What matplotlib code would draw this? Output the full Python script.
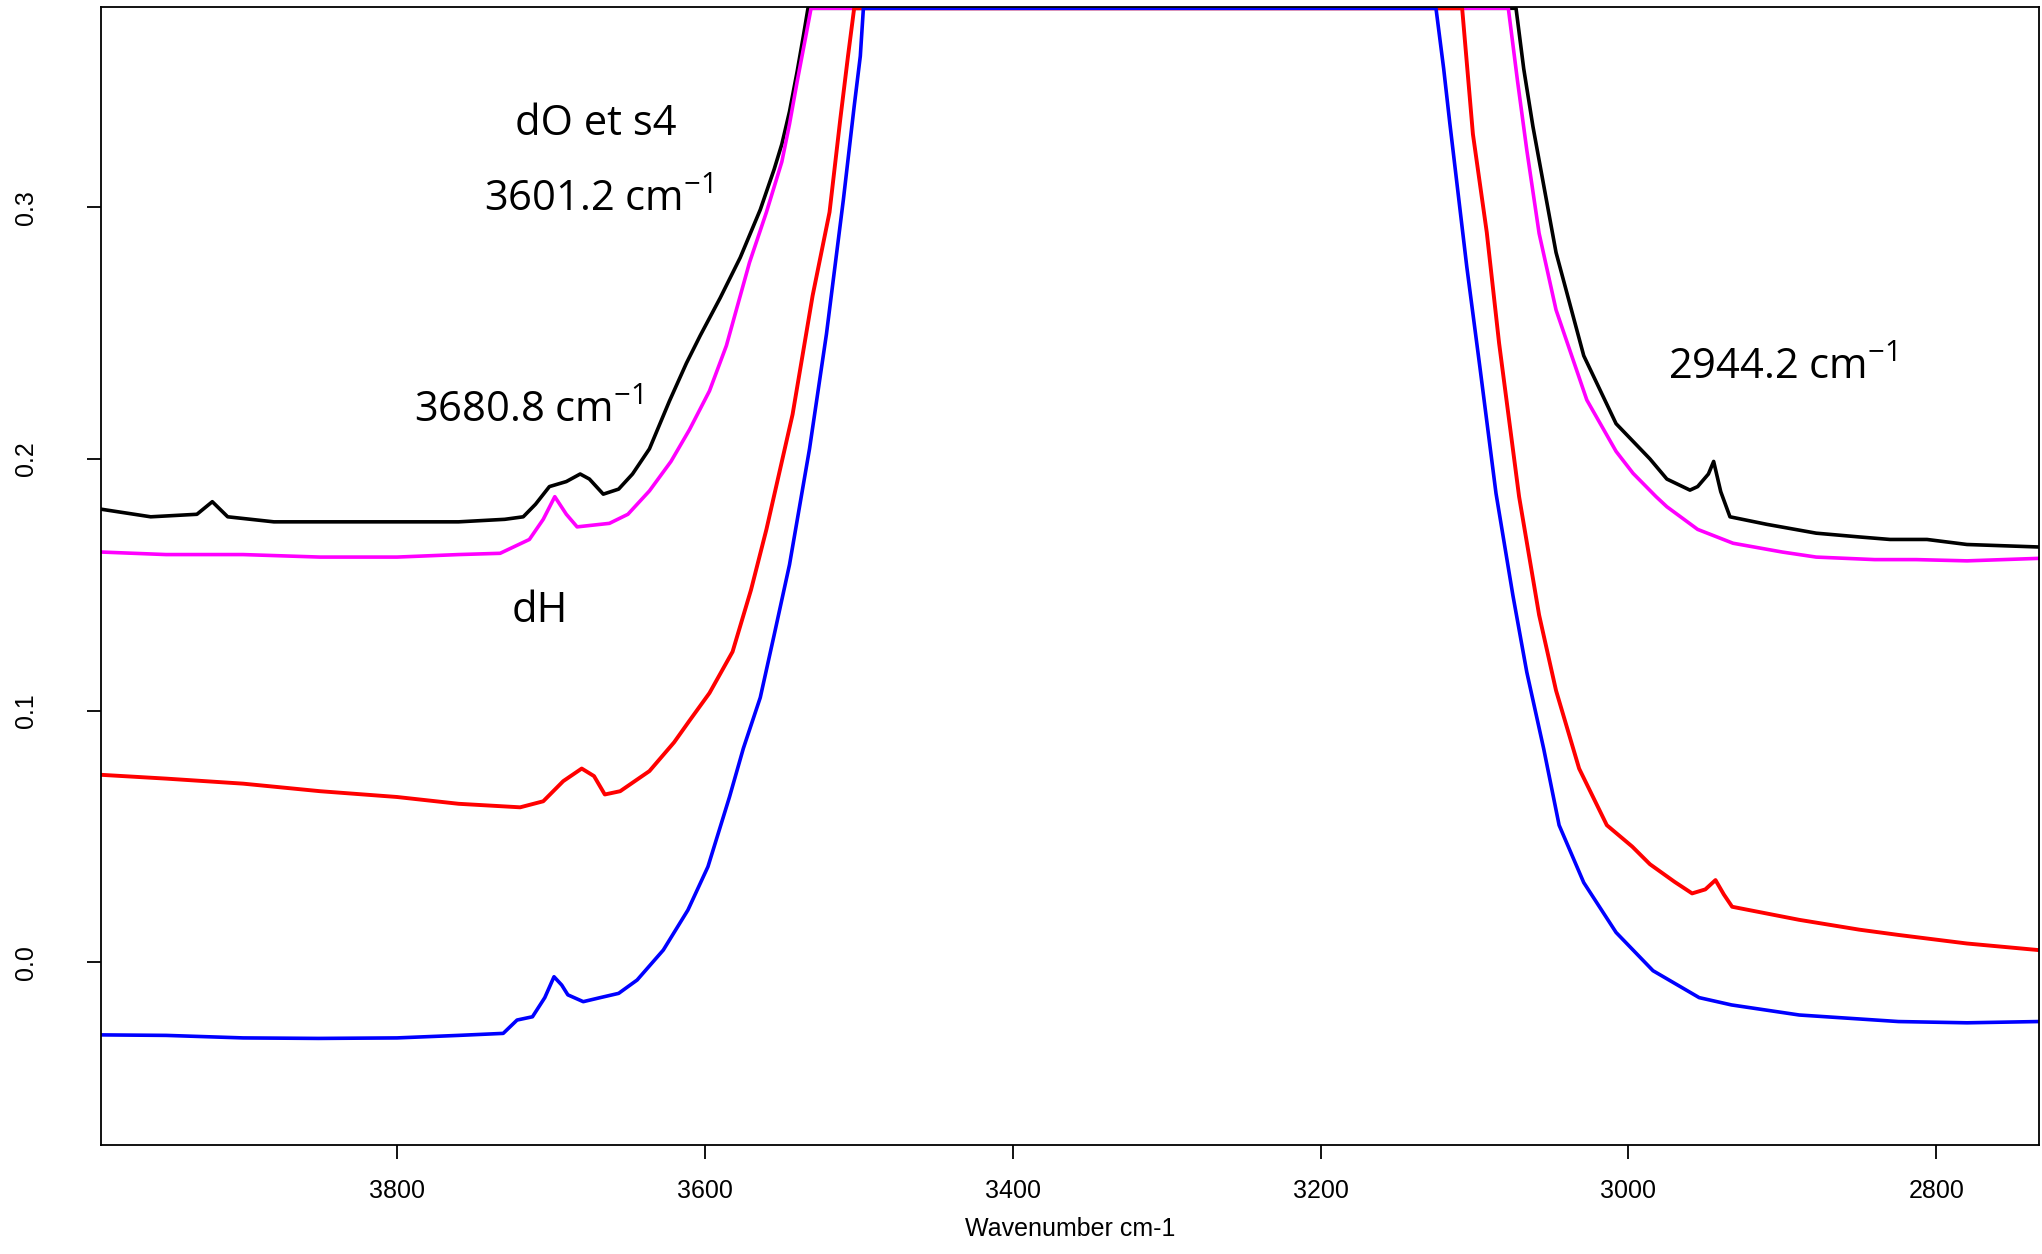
import matplotlib
matplotlib.use("Agg")
import matplotlib.pyplot as plt

# IR spectra (wavenumber, absorbance)
TOP = 0.379  # detector saturation level

black_x = [3992, 3960, 3930, 3920, 3910, 3880, 3850, 3800, 3760, 3730, 3718, 3710, 3701,
           3690, 3681, 3675, 3666, 3656, 3647, 3636, 3623, 3612, 3603, 3590, 3577, 3564,
           3555, 3550, 3545, 3540, 3536, 3533,
           3073, 3068, 3062, 3047, 3029, 3008, 2986, 2975, 2960, 2955, 2948,
           2944.6, 2940, 2934, 2910, 2878, 2850, 2830, 2806, 2780, 2733]
black_y = [0.180, 0.177, 0.178, 0.183, 0.177, 0.175, 0.175, 0.175, 0.175, 0.176, 0.177, 0.182, 0.189,
           0.191, 0.194, 0.192, 0.186, 0.188, 0.194, 0.204, 0.223, 0.238, 0.249, 0.264, 0.280, 0.299,
           0.315, 0.325, 0.338, 0.354, 0.368, TOP,
           TOP, 0.355, 0.332, 0.282, 0.241, 0.214, 0.200, 0.192, 0.1876, 0.189, 0.194,
           0.199, 0.187, 0.177, 0.174, 0.1705, 0.169, 0.168, 0.168, 0.166, 0.165]

magenta_x = [3992, 3950, 3900, 3850, 3800, 3760, 3733, 3714, 3705, 3697.5, 3690, 3683, 3662,
             3650, 3636, 3622, 3610, 3597, 3586, 3571, 3560, 3550, 3545, 3540,
             3535, 3531,
             3078, 3072, 3066, 3058, 3047, 3027, 3008, 2997, 2982, 2975, 2955, 2932, 2900,
             2878, 2840, 2813, 2780, 2733]
magenta_y = [0.163, 0.162, 0.162, 0.161, 0.161, 0.162, 0.1625, 0.168, 0.176, 0.185, 0.178, 0.173, 0.1744,
             0.178, 0.1873, 0.199, 0.2116, 0.227, 0.245, 0.278, 0.298, 0.318, 0.333, 0.350,
             0.366, TOP,
             TOP, 0.350, 0.3227, 0.2896, 0.2592, 0.2234, 0.203, 0.1943, 0.185, 0.181, 0.172, 0.1665, 0.163,
             0.161, 0.160, 0.160, 0.1595, 0.1605]

red_x = [3992, 3950, 3900, 3850, 3800, 3760, 3720, 3705, 3692, 3680, 3672, 3665, 3655, 3636,
         3620, 3610, 3597, 3582, 3570, 3560, 3543, 3530, 3519, 3512, 3507, 3503,
         3108, 3101, 3092, 3084, 3071, 3058, 3047, 3032, 3014, 2997.5, 2986, 2970, 2958.6, 2950,
         2943.4, 2938, 2932.6, 2889, 2850, 2824.5, 2780, 2733.7]
red_y = [0.0745, 0.073, 0.071, 0.068, 0.0657, 0.063, 0.0616, 0.064, 0.072, 0.077, 0.074, 0.0667, 0.068, 0.076,
         0.0874, 0.096, 0.107, 0.1234, 0.148, 0.172, 0.2177, 0.2648, 0.298, 0.335, 0.360, TOP,
         TOP, 0.329, 0.290, 0.246, 0.185, 0.138, 0.108, 0.077, 0.0545, 0.046, 0.039, 0.032, 0.0274, 0.029,
         0.0327, 0.027, 0.0221, 0.0169, 0.013, 0.0109, 0.0075, 0.0049]

blue_x = [3992, 3950, 3900, 3851, 3800, 3760, 3731, 3722, 3712, 3704, 3698, 3693, 3689, 3679,
          3668, 3656, 3644, 3627, 3611, 3598, 3584, 3575, 3564, 3555, 3545, 3532, 3521, 3510,
          3503, 3499, 3497,
          3125, 3120, 3116, 3105, 3096.5, 3086, 3075, 3066, 3055, 3045, 3029, 3008, 2984, 2954, 2933,
          2889, 2824.5, 2780, 2733.7]
blue_y = [-0.0288, -0.029, -0.030, -0.0302, -0.030, -0.029, -0.0282, -0.0229, -0.0216, -0.014, -0.0057, -0.009, -0.0129, -0.0156,
          -0.014, -0.0123, -0.007, 0.0049, 0.0208, 0.038, 0.0657, 0.085, 0.1052, 0.130, 0.158, 0.204, 0.2496, 0.303,
          0.340, 0.360, TOP,
          TOP, 0.355, 0.3333, 0.2764, 0.2366, 0.1863, 0.1457, 0.1153, 0.0848, 0.0545, 0.0317, 0.0119, -0.0033, -0.014, -0.0169,
          -0.0209, -0.0235, -0.024, -0.0235]

xticks = [3800, 3600, 3400, 3200, 3000, 2800]
yticks = [0.0, 0.1, 0.2, 0.3]

plt.rcParams['font.family'] = ['Liberation Sans', 'DejaVu Sans']
plt.rcParams['mathtext.fontset'] = 'custom'
plt.rcParams['mathtext.rm'] = 'Open Sans'
plt.rcParams['mathtext.it'] = 'Open Sans'

fig = plt.figure(figsize=(20.42, 12.54), dpi=100)
ax = fig.add_axes([0.0497, 0.0872, 0.949, 0.9076])

ax.plot(black_x, black_y, color='black', lw=2.6)
ax.plot(magenta_x, magenta_y, color='#ff00ff', lw=2.6)
ax.plot(red_x, red_y, color='#ff0000', lw=2.8)
ax.plot(blue_x, blue_y, color='#0000ff', lw=2.6)

ax.set_xlim(3992, 2733)
ax.set_ylim(-0.0724, 0.3797)
ax.set_xticks(xticks)
ax.set_xticklabels([str(t) for t in xticks], fontsize=18)
ax.set_yticks(yticks)
ax.set_yticklabels(['%.1f' % t for t in yticks], fontsize=18, rotation=90, va='center')
ax.tick_params(direction='out', length=10, width=1.3)
ax.tick_params(axis='x', pad=15)
ax.tick_params(axis='y', pad=36)
for s in ax.spines.values():
    s.set_linewidth(1.3)
ax.set_xlabel('Wavenumber cm-1', fontsize=18, labelpad=10)

tfont = dict(family='Open Sans', fontsize=30, ha='center', va='center')
ax.text(3671, 0.333, 'dO et s4', **tfont)
ax.text(3669, 0.303, '3601.2 cm$^{\\mathrm{-1}}$', **tfont)
ax.text(3715, 0.219, '3680.8 cm$^{\\mathrm{-1}}$', **tfont)
ax.text(3707, 0.1397, 'dH', **tfont)
ax.text(2900, 0.236, '2944.2 cm$^{\\mathrm{-1}}$', **tfont)

fig.savefig('out.png', dpi=100)
